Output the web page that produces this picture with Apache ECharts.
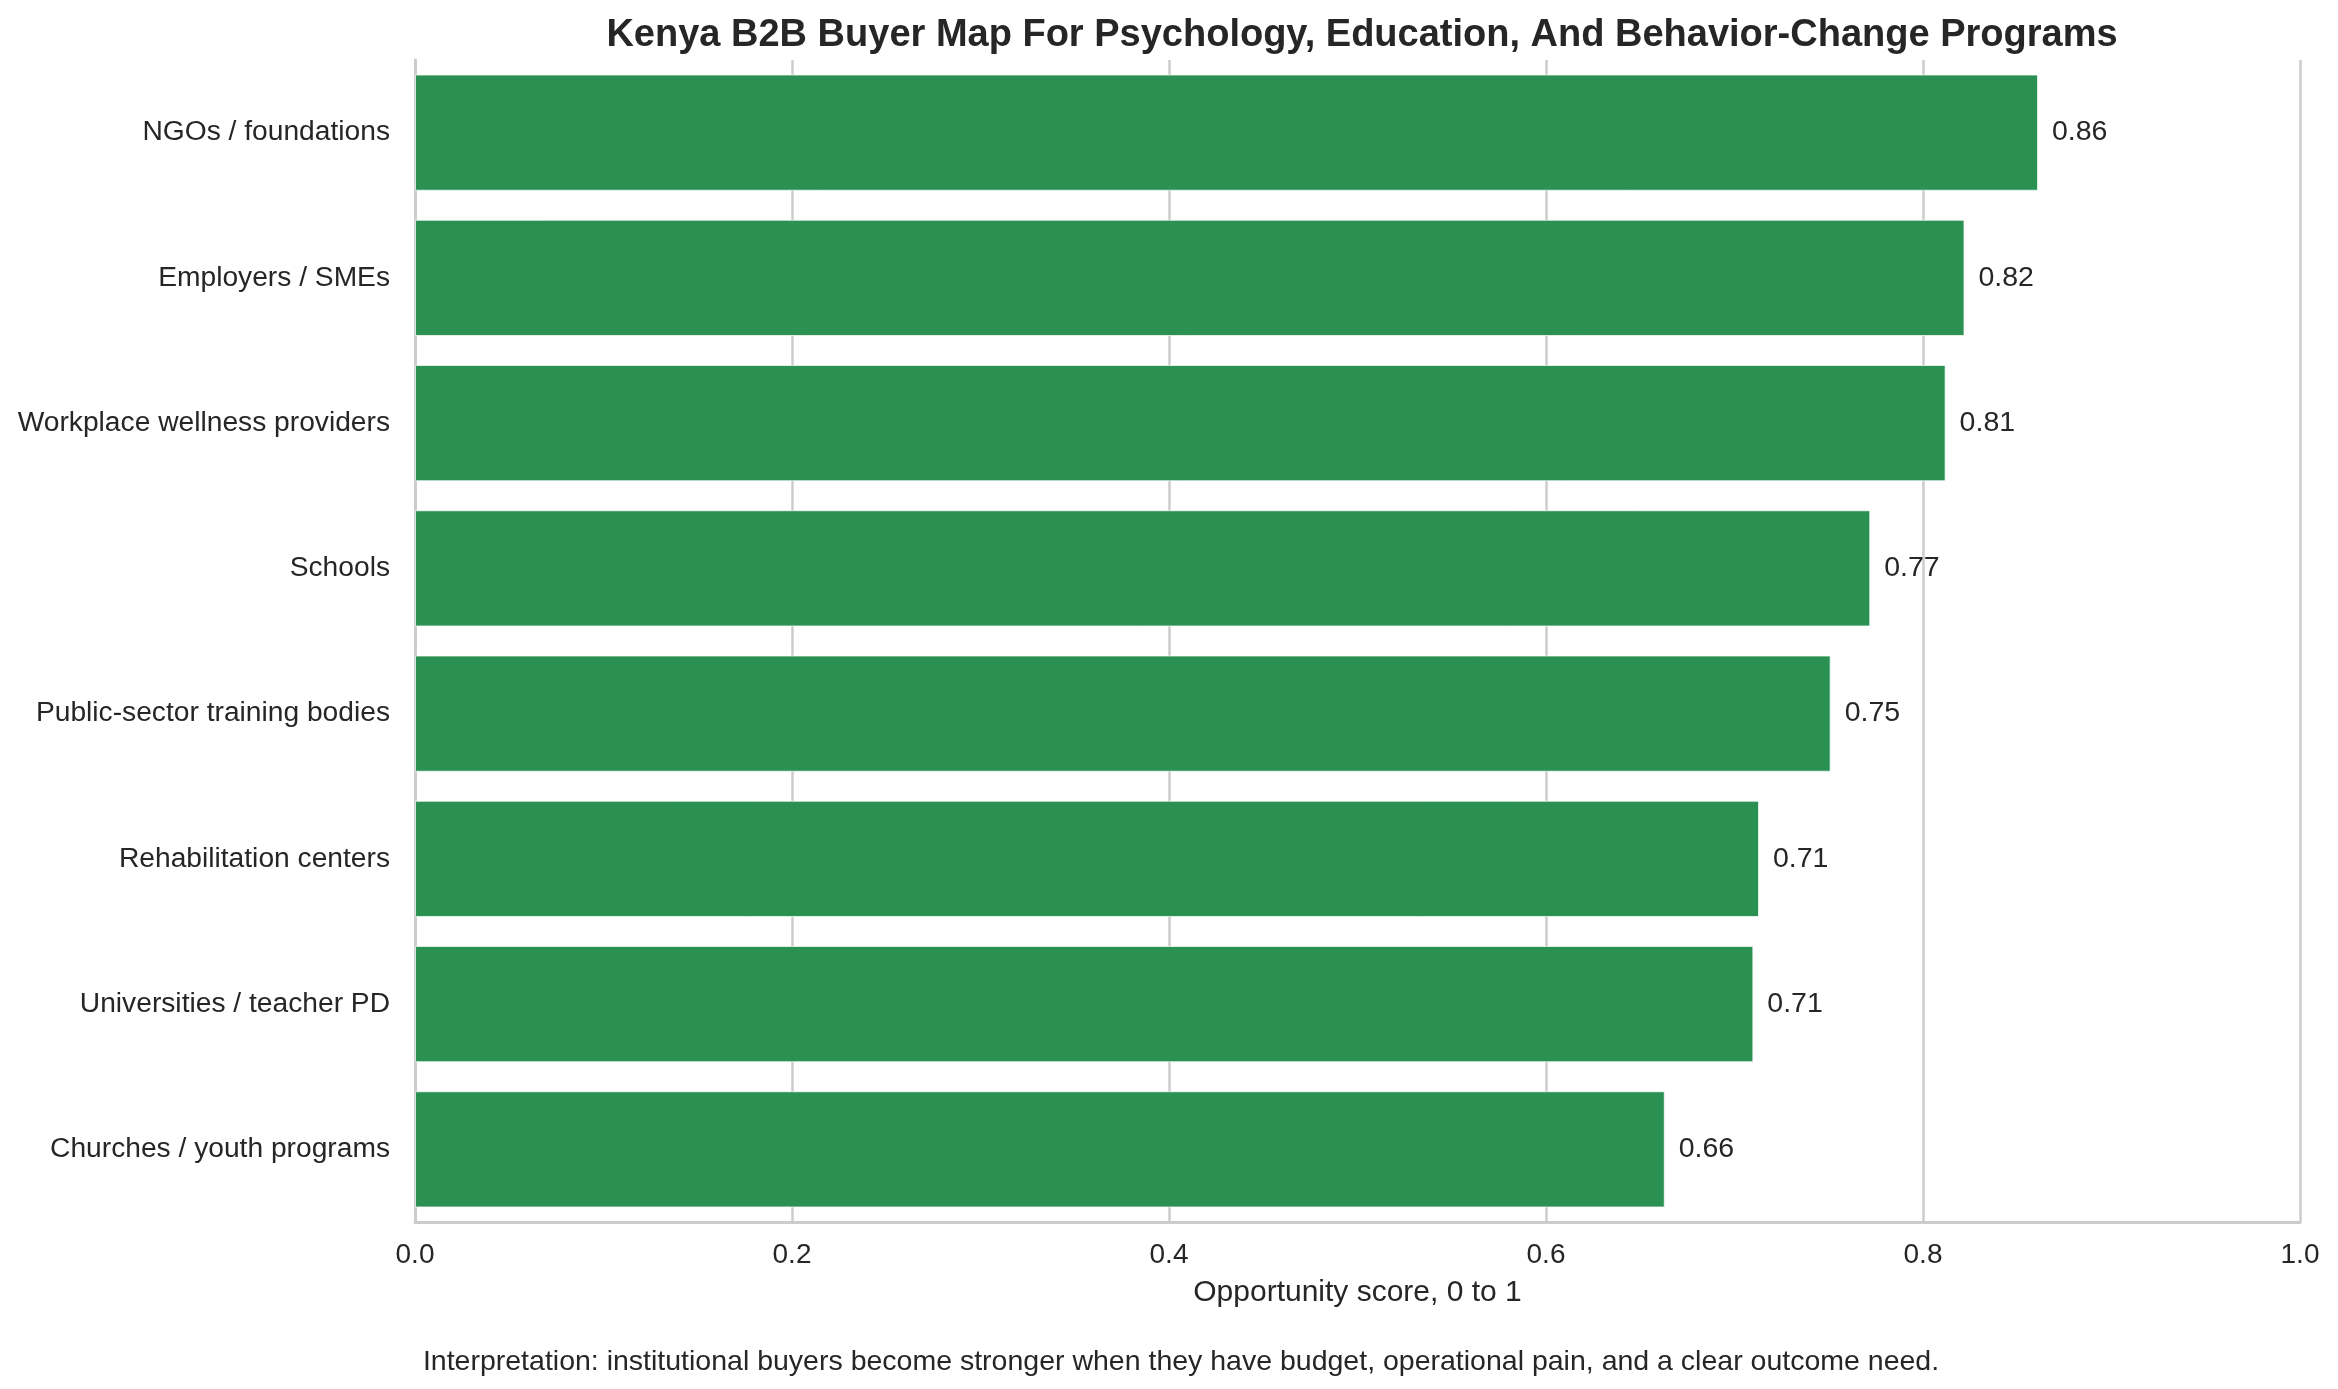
<!DOCTYPE html>
<html>
<head>
<meta charset="utf-8">
<title>Kenya B2B Buyer Map</title>
<script src="https://cdn.jsdelivr.net/npm/echarts@6/dist/echarts.min.js"></script>
<style>
	html, body { margin: 0; padding: 0; background: #fff; }
	#chart { width: 2338px; height: 1389px; }
</style>
</head>
<body>
<div id="chart"></div>
<script>
	// 买方类别（从上到下）
	var buyers = [
		'NGOs / foundations',
		'Employers / SMEs',
		'Workplace wellness providers',
		'Schools',
		'Public-sector training bodies',
		'Rehabilitation centers',
		'Universities / teacher PD',
		'Churches / youth programs'
	];
	// 机会得分 0-1
	var scores = [0.861, 0.822, 0.812, 0.772, 0.751, 0.713, 0.710, 0.663];
	var xTicks = [0, 0.2, 0.4, 0.6, 0.8, 1.0];

	var titleText = 'Kenya B2B Buyer Map For Psychology, Education, And Behavior-Change Programs';
	var xName = 'Opportunity score, 0 to 1';
	var noteText = 'Interpretation: institutional buyers become stronger when they have budget, operational pain, and a clear outcome need.';

	var FONT = '"Liberation Sans", Arial, sans-serif';
	var INK = '#262626';
	var GRID = '#cccccc';

	var chart = echarts.init(document.getElementById('chart'));
	var option = {
		backgroundColor: '#ffffff',
		animation: false,
		textStyle: { fontFamily: FONT, color: INK },
		title: [{
			text: titleText,
			left: 1357,
			top: 12,
			textAlign: 'center',
			textStyle: { fontSize: 38, fontWeight: 'bold', color: INK, fontFamily: FONT, lineHeight: 38 }
		}, {
			text: noteText,
			left: 1176,
			top: 1343,
			textAlign: 'center',
			textStyle: { fontSize: 28.5, fontWeight: 'normal', color: INK, fontFamily: FONT, lineHeight: 28 }
		}],
		grid: {
			left: 415,
			right: 38,
			top: 60,
			bottom: 167
		},
		xAxis: {
			type: 'value',
			min: xTicks[0],
			max: xTicks[xTicks.length - 1],
			interval: 0.2,
			name: xName,
			nameLocation: 'middle',
			nameGap: 56,
			nameTextStyle: { fontSize: 30, color: INK, fontFamily: FONT, lineHeight: 30 },
			axisLine: { show: true, lineStyle: { color: GRID, width: 3 } },
			axisTick: { show: false },
			axisLabel: {
				fontSize: 28,
				color: INK,
				fontFamily: FONT,
				margin: 19,
				lineHeight: 28,
				formatter: function (v) { return v.toFixed(1); }
			},
			splitLine: { show: true, lineStyle: { color: GRID, width: 2.5 } }
		},
		yAxis: {
			type: 'category',
			data: buyers,
			inverse: true,
			axisLine: { show: true, lineStyle: { color: GRID, width: 3 } },
			axisTick: { show: false },
			axisLabel: { fontSize: 28.2, color: INK, fontFamily: FONT, margin: 25 },
			splitLine: { show: false }
		},
		series: [{
			type: 'bar',
			data: scores,
			barCategoryGap: '20%',
			itemStyle: {
				color: '#2a9152',
				borderColor: 'rgba(255,255,255,0.7)',
				borderWidth: 1
			},
			label: {
				show: true,
				position: 'right',
				distance: 14,
				fontSize: 28.5,
				color: INK,
				fontFamily: FONT,
				formatter: function (p) { return p.value.toFixed(2); }
			}
		}]
	};
	chart.setOption(option);
</script>
</body>
</html>
